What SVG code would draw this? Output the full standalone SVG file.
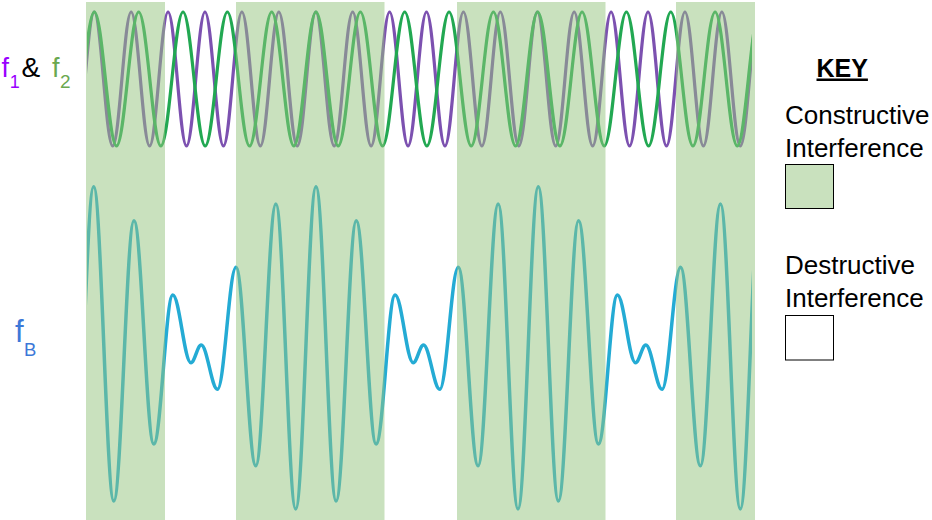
<svg xmlns="http://www.w3.org/2000/svg" width="932" height="520" viewBox="0 0 932 520">
<style>
.wave{fill:none;stroke-linecap:round;stroke-linejoin:round}
.band{fill:#93c47d;fill-opacity:0.5;stroke:none}
.t{font-family:"Liberation Sans",Arial,sans-serif;fill:#000}
</style>
<defs>
<clipPath id="plotClip"><rect x="87" y="0" width="665" height="520"/></clipPath>
</defs>
<rect x="0" y="0" width="932" height="520" fill="#fff"/>
<g id="waves" clip-path="url(#plotClip)">
<path id="f1-wave" class="wave" stroke="#7c51b0" stroke-width="3.2" d="M57.3,12 c6.708,0 11.752,134 18.46,134 s11.752,-134 18.46,-134 s11.752,134 18.46,134 s11.752,-134 18.46,-134 s11.752,134 18.46,134 s11.752,-134 18.46,-134 s11.752,134 18.46,134 s11.752,-134 18.46,-134 s11.752,134 18.46,134 s11.752,-134 18.46,-134 s11.752,134 18.46,134 s11.752,-134 18.46,-134 s11.752,134 18.46,134 s11.752,-134 18.46,-134 s11.752,134 18.46,134 s11.752,-134 18.46,-134 s11.752,134 18.46,134 s11.752,-134 18.46,-134 s11.752,134 18.46,134 s11.752,-134 18.46,-134 s11.752,134 18.46,134 s11.752,-134 18.46,-134 s11.752,134 18.46,134 s11.752,-134 18.46,-134 s11.752,134 18.46,134 s11.752,-134 18.46,-134 s11.752,134 18.46,134 s11.752,-134 18.46,-134 s11.752,134 18.46,134 s11.752,-134 18.46,-134 s11.752,134 18.46,134 s11.752,-134 18.46,-134 s11.752,134 18.46,134 s11.752,-134 18.46,-134 s11.752,134 18.46,134 s11.752,-134 18.46,-134 s11.752,134 18.46,134 s11.752,-134 18.46,-134"/>
<path id="f2-wave" class="wave" stroke="#22a852" stroke-width="3.2" d="M50,12 c8.057,0 14.113,134 22.17,134 s14.113,-134 22.17,-134 s14.113,134 22.17,134 s14.113,-134 22.17,-134 s14.113,134 22.17,134 s14.113,-134 22.17,-134 s14.113,134 22.17,134 s14.113,-134 22.17,-134 s14.113,134 22.17,134 s14.113,-134 22.17,-134 s14.113,134 22.17,134 s14.113,-134 22.17,-134 s14.113,134 22.17,134 s14.113,-134 22.17,-134 s14.113,134 22.17,134 s14.113,-134 22.17,-134 s14.113,134 22.17,134 s14.113,-134 22.17,-134 s14.113,134 22.17,134 s14.113,-134 22.17,-134 s14.113,134 22.17,134 s14.113,-134 22.17,-134 s14.113,134 22.17,134 s14.113,-134 22.17,-134 s14.113,134 22.17,134 s14.113,-134 22.17,-134 s14.113,134 22.17,134 s14.113,-134 22.17,-134 s14.113,134 22.17,134 s14.113,-134 22.17,-134 s14.113,134 22.17,134 s14.113,-134 22.17,-134 s14.113,134 22.17,134"/>
<path id="fB-wave" class="wave" stroke="#24abd4" stroke-width="3.5" d="M73.4,509 C80.78,509 86.32,186.7 93.7,186.7 C101,186.7 106.5,501 113.8,501 C121.14,501 126.66,220.7 134,220.7 C141.2,220.7 146.6,444 153.8,444 C160.7,444 165.9,295 172.8,295 C179.38,295 184.32,362.7 190.9,362.7 C194.64,362.7 197.46,345 201.2,345 C207.12,345 211.58,389.3 217.5,389.3 C224.22,389.3 229.28,267.3 236,267.3 C243.2,267.3 248.6,465.7 255.8,465.7 C263.1,465.7 268.6,204 275.9,204 C283.1,204 288.5,509 295.7,509 C303.08,509 308.62,186.7 316,186.7 C323.3,186.7 328.8,501 336.1,501 C343.44,501 348.96,220.7 356.3,220.7 C363.5,220.7 368.9,444 376.1,444 C383,444 388.2,295 395.1,295 C401.68,295 406.62,362.7 413.2,362.7 C416.94,362.7 419.76,345 423.5,345 C429.42,345 433.88,389.3 439.8,389.3 C446.52,389.3 451.58,267.3 458.3,267.3 C465.5,267.3 470.9,465.7 478.1,465.7 C485.4,465.7 490.9,204 498.2,204 C505.4,204 510.8,509 518,509 C525.38,509 530.92,186.7 538.3,186.7 C545.6,186.7 551.1,501 558.4,501 C565.74,501 571.26,220.7 578.6,220.7 C585.8,220.7 591.2,444 598.4,444 C605.3,444 610.5,295 617.4,295 C623.98,295 628.92,362.7 635.5,362.7 C639.24,362.7 642.06,345 645.8,345 C651.72,345 656.18,389.3 662.1,389.3 C668.82,389.3 673.88,267.3 680.6,267.3 C687.8,267.3 693.2,465.7 700.4,465.7 C707.7,465.7 713.2,204 720.5,204 C727.7,204 733.1,509 740.3,509 C747.68,509 753.22,186.7 760.6,186.7"/>
</g>
<g id="bands">
<rect class="band" x="86" y="2" width="79" height="518"/>
<rect class="band" x="236" y="2" width="148.5" height="518"/>
<rect class="band" x="457" y="2" width="148.5" height="518"/>
<rect class="band" x="676" y="2" width="79" height="518"/>
</g>
<g id="labels">
<text class="t" font-size="27"><tspan x="1.5" y="77" fill="#9900ff">f</tspan><tspan x="9.8" y="87.5" font-size="18" fill="#9900ff">1</tspan><tspan x="21.5" y="77" font-size="28">&amp;</tspan><tspan x="52" y="77" fill="#6aa84f">f</tspan><tspan x="60" y="87.5" font-size="19" fill="#6aa84f">2</tspan></text>
<text class="t" font-size="31"><tspan x="15" y="342.3" fill="#3c78d8">f</tspan><tspan x="24" y="355.5" font-size="18.5" fill="#3c78d8">B</tspan></text>
</g>
<g id="key">
<text class="t" x="816.5" y="76.5" font-size="25" font-weight="bold" text-decoration="underline">KEY</text>
<text class="t" x="785" y="124" font-size="26">Constructive</text>
<text class="t" x="785" y="156.7" font-size="26">Interference</text>
<rect id="key-constructive" x="785.5" y="164.5" width="48" height="44" fill="#93c47d" fill-opacity="0.5" stroke="#000" stroke-width="1"/>
<text class="t" x="785" y="274.3" font-size="26">Destructive</text>
<text class="t" x="785" y="306.7" font-size="26">Interference</text>
<rect id="key-destructive" x="785.5" y="315.5" width="48" height="44.5" fill="#fff" stroke="#000" stroke-width="1"/>
</g>
</svg>
